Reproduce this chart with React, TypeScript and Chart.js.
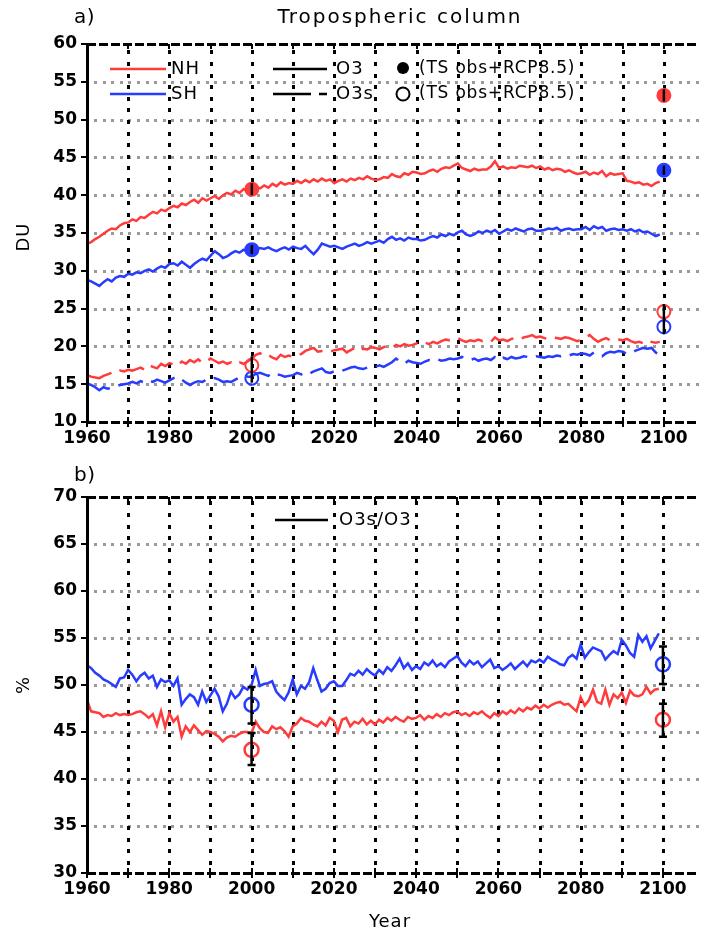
import React, { useEffect, useRef } from "react";
import { Chart, registerables } from "chart.js";
Chart.register(...registerables);

// ---------- data ----------
const START_YEAR = 1960;
const X_TICKS = [1960, 1970, 1980, 1990, 2000, 2010, 2020, 2030, 2040, 2050, 2060, 2070, 2080, 2090, 2100];
const X_LABEL_STEP = 20;
const Y_TICKS_A = [10, 15, 20, 25, 30, 35, 40, 45, 50, 55, 60];
const Y_TICKS_B = [30, 35, 40, 45, 50, 55, 60, 65, 70];

// Panel a: tropospheric column (DU), annual 1960-2099
const nhO3 = [
  33.6, 33.8, 34.2, 34.5, 34.9, 35.3, 35.6, 35.5, 36.0, 36.3,
  36.4, 36.8, 36.6, 37.1, 37.0, 37.4, 37.8, 37.6, 38.1, 37.9,
  38.3, 38.6, 38.4, 38.9, 38.7, 39.1, 39.4, 39.0, 39.6, 39.3,
  39.6, 39.9, 39.5, 40.0, 40.3, 40.1, 40.6, 40.3, 40.8, 40.5,
  40.8, 41.1, 40.9, 41.3, 41.0, 41.5, 41.2, 41.7, 41.4, 41.6,
  41.5, 41.9, 41.6, 42.0, 41.7, 42.1, 41.8, 42.2, 41.9, 42.1,
  41.6, 41.9, 42.1, 41.8, 42.2, 42.0, 42.3, 42.1, 42.5, 42.2,
  42.0, 42.1, 42.4, 42.3, 42.8, 42.5, 42.4, 42.9, 42.7, 43.1,
  43.0, 42.8, 42.9, 43.2, 43.4, 43.1, 43.5, 43.7, 43.6, 43.9,
  44.2, 43.6, 43.4, 43.2, 43.5, 43.3, 43.4, 43.4, 43.8, 44.5,
  43.6, 43.8, 43.5, 43.7, 43.6, 43.9, 43.8, 43.7, 43.9, 43.6,
  43.8, 43.4, 43.6, 43.3, 43.5, 43.4, 43.1, 43.3, 43.0, 42.8,
  42.9, 43.1, 42.7, 43.0, 42.8, 43.2, 42.5, 42.9, 42.7, 42.8,
  42.9, 41.9, 41.8, 41.6, 41.7, 41.4, 41.5, 41.2, 41.6, 41.8,
];
const shO3 = [
  28.8, 28.6, 28.3, 28.0, 28.5, 28.9, 28.6, 29.1, 29.3, 29.2,
  29.6, 29.5, 29.8, 29.7, 30.0, 30.2, 29.9, 30.3, 30.6, 30.4,
  30.9, 31.0, 30.7, 31.2, 30.8, 30.4, 30.9, 31.3, 31.6, 31.4,
  32.0, 32.6, 32.2, 31.7, 31.9, 32.3, 32.6, 32.4, 32.8, 32.5,
  33.0, 32.8, 33.0, 32.9, 33.1, 32.8, 32.6, 32.9, 33.1, 32.8,
  33.2, 33.0, 32.9, 33.3, 32.7, 32.2, 32.8, 33.6, 33.4, 33.2,
  33.3, 33.1, 32.9, 33.2, 33.4, 33.6, 33.3, 33.5, 33.8, 33.6,
  33.8, 34.0, 33.7, 34.2, 34.5, 34.1, 34.3, 34.0, 34.4, 34.2,
  34.2, 34.0, 34.1, 34.4, 34.6, 34.4, 34.8, 34.6, 34.9, 34.7,
  35.1, 35.3, 34.8, 34.6, 34.8, 35.2, 35.0, 35.3, 35.1, 35.4,
  34.9, 35.2, 35.5, 35.3, 35.6, 35.4, 35.2, 35.5, 35.6, 35.3,
  35.3, 35.4, 35.6, 35.5, 35.7, 35.3, 35.5, 35.6, 35.4, 35.5,
  35.5, 35.8, 35.4, 35.9, 35.6, 35.8, 35.3, 35.5, 35.6, 35.4,
  35.5, 35.3, 35.5, 35.2, 35.4, 35.1, 35.2, 34.9, 34.6, 34.8,
];
const nhO3s = [
  16.2, 16.0, 15.9, 15.8, 16.1, 16.3, 16.5, 16.4, 16.8, 16.7,
  16.9, 16.8, 17.0, 17.2, 16.9, 17.5, 17.3, 17.1, 17.7, 17.4,
  17.8, 17.6, 17.4, 18.0, 17.7, 18.2, 17.9, 18.3, 17.8, 18.0,
  18.4, 18.1, 17.8, 18.0, 17.7, 17.9, 17.6, 17.9, 17.7, 18.0,
  18.4, 18.9, 19.1, 18.7, 18.9, 18.5, 18.3, 18.9, 18.6, 18.8,
  18.6, 18.9, 19.0, 19.4, 19.6, 19.8, 19.3, 19.4, 19.5, 19.3,
  19.5, 19.6, 19.7, 19.2, 19.5, 19.8, 19.4, 19.7, 19.6, 19.9,
  19.8, 19.6, 19.9, 20.1, 19.8, 20.2, 20.0, 20.3, 20.1, 20.2,
  20.4, 20.2, 20.5, 20.3, 20.6, 20.4, 20.7, 20.9, 20.8, 21.0,
  21.1, 20.8, 20.6, 20.8, 20.7, 20.9, 20.7, 20.8, 20.6, 21.2,
  20.8, 20.9, 20.7, 21.0, 21.1, 20.9, 21.2, 21.3, 21.5, 21.2,
  21.3, 21.1, 21.0, 21.2, 21.1, 21.0, 21.2, 21.1, 20.9, 20.7,
  20.9, 21.2, 21.5, 21.0, 20.6, 20.9, 21.1, 20.8, 21.0, 20.9,
  20.8, 21.0, 20.7, 20.5, 20.6, 20.4, 20.8, 20.6, 20.5, 20.6,
];
const shO3s = [
  15.1, 14.9, 14.6, 14.2, 14.6, 14.4, 14.5, 14.7, 14.9, 15.0,
  15.1, 15.3, 15.1, 15.4, 15.2, 15.5, 15.3, 15.6, 15.4, 15.2,
  15.5, 15.8, 16.0, 15.6, 15.2, 14.9, 15.2, 15.4, 15.3, 15.6,
  15.5, 15.8, 15.6, 15.3, 15.4, 15.3, 15.6, 15.9, 16.2, 16.0,
  16.0, 16.4, 16.5, 16.3, 16.1, 16.5, 16.3, 16.2, 16.0, 16.1,
  16.2, 16.5, 16.3, 16.6, 16.4, 16.7, 16.9, 17.1, 16.6, 16.5,
  16.7, 16.6, 16.8, 17.0, 17.2, 17.3, 17.1, 17.0, 17.2, 17.4,
  17.3, 17.5, 17.3, 17.6, 17.9, 18.4, 18.0, 17.7, 18.1, 17.9,
  17.8, 17.7, 18.0, 18.2, 18.1, 18.3, 18.1, 18.2, 18.4, 18.3,
  18.4, 18.6, 18.3, 18.2, 18.4, 18.1, 18.3, 18.4, 18.2, 18.6,
  18.2, 18.5, 18.3, 18.6, 18.4, 18.5, 18.7, 18.6, 18.5, 18.7,
  18.6, 18.5, 18.7, 18.6, 18.8, 18.7, 18.9, 18.8, 19.0, 18.9,
  19.1, 19.0, 18.8, 19.2, 18.9, 18.7, 19.1, 19.3, 19.2, 19.4,
  19.3, 19.0, 19.1, 19.4, 19.6, 19.8, 19.7, 19.8, 19.2, 18.9,
];
// Panel b: O3s/O3 (%), annual 1960-2099
const nhRatio = [
  48.4, 47.2, 47.1, 47.0, 46.6, 46.8, 46.7, 47.0, 46.8, 46.9,
  46.8, 46.9, 47.1, 47.2, 46.9, 46.5, 46.9, 45.7, 47.2, 45.5,
  47.0, 46.1, 46.6, 44.5, 45.6, 45.0, 45.7, 45.2, 44.7, 45.1,
  45.0, 44.8, 44.5, 44.0, 44.4, 44.6, 44.5, 44.8, 45.0, 45.0,
  44.9, 46.1, 45.4, 45.0, 44.9, 45.6, 45.3, 45.5, 45.1, 44.5,
  45.6, 45.9, 46.5, 46.2, 46.1, 45.8, 45.6, 46.1, 45.7, 46.5,
  46.2, 45.0, 46.3, 46.5, 45.6, 46.1, 45.9, 46.4, 45.8, 46.2,
  45.8, 46.3, 46.0, 46.5, 46.2, 46.6, 46.3, 46.1, 46.6, 46.4,
  46.5, 46.8, 46.3, 46.7, 46.5, 46.9, 46.6, 47.0, 46.8, 47.1,
  47.2, 46.8, 47.0, 46.7, 47.1, 46.9, 47.2, 46.8, 46.5, 47.0,
  46.7, 47.2, 46.9, 47.3, 47.0, 47.5, 47.2, 47.6, 47.4, 47.8,
  47.5, 47.9, 47.6, 47.9, 48.1, 48.2, 47.9, 48.0, 47.6, 47.2,
  48.7, 47.8, 48.4, 49.5, 48.2, 48.0, 49.5, 47.9, 49.0, 48.6,
  49.2, 48.1, 49.4, 48.9, 48.8, 49.0, 49.8, 49.1, 49.5, 49.6,
];
const shRatio = [
  52.1, 51.8, 51.3, 51.0, 50.6, 50.4, 50.1, 49.8, 50.7, 50.8,
  51.6, 51.1, 50.4, 51.0, 51.3, 50.7, 51.0, 49.8, 50.6, 50.3,
  50.5, 49.9, 50.7, 47.9, 48.5, 49.0, 48.7, 47.9, 49.3, 48.2,
  48.9, 49.6, 48.8, 47.2, 48.0, 49.3, 48.6, 49.0, 49.8, 49.5,
  50.0, 51.6, 49.9, 50.1, 50.2, 50.4, 49.3, 48.8, 48.4, 49.2,
  50.6, 49.0, 49.9, 49.6, 50.3, 51.8, 50.5, 49.3, 49.6, 50.2,
  50.4, 49.9, 49.9, 50.5, 51.2, 51.0, 51.5, 51.1, 51.7, 51.3,
  51.0, 51.6, 51.2, 51.9, 51.5, 52.1, 52.8, 51.8, 52.3, 51.6,
  52.0, 51.7, 52.4, 52.1, 52.6, 52.0, 52.3, 51.9, 52.5, 52.8,
  53.1, 52.4, 52.0, 52.6, 52.2, 52.5, 51.9, 52.3, 52.7, 51.8,
  52.0, 51.6, 51.9, 52.3, 51.7, 52.1, 52.5, 52.0, 52.6, 52.4,
  52.7, 52.4, 53.0, 52.7, 52.5, 52.2, 52.1, 52.9, 53.2, 52.8,
  54.3, 52.9, 53.5, 54.0, 53.8, 53.6, 52.7, 53.2, 53.6, 53.3,
  54.8, 54.2, 53.4, 53.0, 55.3, 54.6, 55.2, 53.9, 54.7, 55.5,
];

// Observation-based markers (TS obs + RCP8.5)
const obsYears = [2000, 2100];
const nhO3Obs = [40.8, 53.2];
const shO3Obs = [32.8, 43.3];
const nhO3sObs = [17.5, 24.6];
const shO3sObs = [15.8, 22.6];
const nhO3ObsErr = [0.8, 0.8];
const shO3ObsErr = [0.6, 0.6];
const nhO3sObsErr = [1.2, 1.0];
const shO3sObsErr = [0.6, 1.0];
const nhRatioObs = [43.1, 46.3];
const shRatioObs = [47.9, 52.2];
const nhRatioLo = [41.5, 44.5];
const nhRatioHi = [44.9, 48.0];
const shRatioLo = [45.9, 50.1];
const shRatioHi = [49.8, 54.1];

const RED = "rgb(255,60,60)";
const BLUE = "rgb(40,60,255)";
const FONT = "DejaVu Sans";

const toXY = (arr: number[]) => arr.map((v, i) => ({ x: START_YEAR + i, y: v }));
const obsXY = (arr: number[]) => arr.map((v, i) => ({ x: obsYears[i], y: v }));

// ---------- plugins ----------
function gridFramePlugin() {
  return {
    id: "gridFrame",
    beforeDatasetsDraw(chart: any) {
      const ctx = chart.ctx as CanvasRenderingContext2D;
      const a = chart.chartArea;
      const x = chart.scales.x;
      const y = chart.scales.y;
      ctx.save();
      // horizontal gray dotted grid
      ctx.fillStyle = "#9a9a9a";
      for (const v of (y.ticks as any[]).map((t) => t.value)) {
        if (v <= y.min || v >= y.max) continue;
        const py = Math.round(y.getPixelForValue(v));
        for (let px = a.left + 8; px < a.right; px += 8.6) {
          ctx.fillRect(Math.round(px) - 1, py - 1, 3, 3);
        }
      }
      // vertical black dotted grid
      ctx.fillStyle = "#000";
      for (const v of X_TICKS) {
        if (v === X_TICKS[0]) continue;
        const px = Math.round(x.getPixelForValue(v));
        for (let py = a.bottom - 10; py > a.top + 3; py -= 11.6) {
          ctx.fillRect(px - 1, Math.round(py) - 2, 3, 4);
        }
      }
      ctx.restore();
    },
    afterDatasetsDraw(chart: any) {
      const ctx = chart.ctx as CanvasRenderingContext2D;
      const a = chart.chartArea;
      const x = chart.scales.x;
      const y = chart.scales.y;
      ctx.save();
      ctx.fillStyle = "#000";
      // dashed top & bottom borders
      for (const py of [a.top, a.bottom]) {
        for (let px = a.left; px < a.right; px += 12) {
          ctx.fillRect(px, Math.round(py) - 1, 9, 3);
        }
      }
      // decade ticks
      for (const v of X_TICKS) {
        const px = Math.round(x.getPixelForValue(v));
        ctx.fillRect(px - 1, a.bottom - 5, 2, 10);
        ctx.fillRect(px - 1, a.top, 2, 5);
      }
      // left solid axis
      ctx.fillRect(a.left - 1, a.top - 1, 3, a.bottom - a.top + 3);
      for (const t of y.ticks as any[]) {
        const py = Math.round(y.getPixelForValue(t.value));
        ctx.fillRect(a.left - 6, py - 1, 6, 2);
      }
      ctx.restore();
    },
  };
}

function errorBarPlugin(bars: { x: number; lo: number; hi: number; cap: number }[]) {
  return {
    id: "errorBars",
    afterDatasetsDraw(chart: any) {
      const ctx = chart.ctx as CanvasRenderingContext2D;
      const x = chart.scales.x;
      const y = chart.scales.y;
      ctx.save();
      ctx.strokeStyle = "#000";
      ctx.lineWidth = 2.5;
      ctx.setLineDash([]);
      for (const b of bars) {
        const px = x.getPixelForValue(b.x);
        const p1 = y.getPixelForValue(b.lo);
        const p2 = y.getPixelForValue(b.hi);
        ctx.beginPath();
        ctx.moveTo(px, p1);
        ctx.lineTo(px, p2);
        if (b.cap > 0) {
          ctx.moveTo(px - b.cap, p1);
          ctx.lineTo(px + b.cap, p1);
          ctx.moveTo(px - b.cap, p2);
          ctx.lineTo(px + b.cap, p2);
        }
        ctx.stroke();
      }
      ctx.restore();
    },
  };
}

function textPlugin(draw: (ctx: CanvasRenderingContext2D) => void) {
  return {
    id: "texts",
    afterDraw(chart: any) {
      const ctx = chart.ctx as CanvasRenderingContext2D;
      ctx.save();
      draw(ctx);
      ctx.restore();
    },
  };
}

function setFont(ctx: any, size: number, spacing = 0, weight = "normal") {
  ctx.font = `${weight} ${size}px "${FONT}"`;
  ctx.letterSpacing = `${spacing}px`;
  ctx.fillStyle = "#000";
}

function rotatedText(ctx: CanvasRenderingContext2D, text: string, cx: number, cy: number) {
  ctx.save();
  ctx.translate(cx, cy);
  ctx.rotate(-Math.PI / 2);
  ctx.textAlign = "center";
  ctx.textBaseline = "middle";
  ctx.fillText(text, 0, 0);
  ctx.restore();
}

function legendLine(ctx: CanvasRenderingContext2D, x1: number, x2: number, y: number, color: string, dash: number[] = []) {
  ctx.save();
  ctx.strokeStyle = color;
  ctx.lineWidth = 2.5;
  ctx.setLineDash(dash);
  ctx.beginPath();
  ctx.moveTo(x1, y);
  ctx.lineTo(x2, y);
  ctx.stroke();
  ctx.restore();
}

const tickFont = { family: FONT, weight: "bold" as const, size: 17 };

function baseOptions(yMin: number, yMax: number, yTicks: number[], padTop: number, xAxisH: number) {
  return {
    responsive: false,
    animation: false as const,
    devicePixelRatio: 1,
    layout: { padding: { top: padTop, left: 0, right: 0, bottom: 0 } },
    plugins: { legend: { display: false }, tooltip: { enabled: false }, title: { display: false } },
    elements: { point: { radius: 0 }, line: { tension: 0 } },
    scales: {
      x: {
        type: "linear" as const,
        min: 1960,
        max: 2108.4,
        grid: { display: false, drawTicks: false },
        border: { display: false },
        afterBuildTicks: (s: any) => {
          s.ticks = X_TICKS.map((v) => ({ value: v }));
        },
        afterFit: (s: any) => {
          s.height = xAxisH;
        },
        ticks: {
          autoSkip: false,
          maxRotation: 0,
          color: "#000",
          padding: 6,
          font: tickFont,
          callback: (v: any) => ((v - X_TICKS[0]) % X_LABEL_STEP === 0 ? String(v) : ""),
        },
      },
      y: {
        type: "linear" as const,
        min: yMin,
        max: yMax,
        grid: { display: false, drawTicks: false },
        border: { display: false },
        afterBuildTicks: (s: any) => {
          s.ticks = yTicks.map((v) => ({ value: v }));
        },
        afterFit: (s: any) => {
          s.width = 87;
        },
        ticks: { color: "#000", padding: 10, font: tickFont },
      },
    },
  };
}

function PanelA() {
  const ref = useRef<HTMLCanvasElement | null>(null);
  useEffect(() => {
    if (!ref.current) return;
    const lineDs = (label: string, data: number[], color: string, dash: number[] = []) => ({
      type: "line" as const,
      label,
      data: toXY(data),
      borderColor: color,
      borderWidth: 2.5,
      borderDash: dash,
      pointRadius: 0,
      fill: false,
    });
    const markDs = (label: string, data: number[], color: string, filled: boolean) => ({
      type: "scatter" as const,
      label,
      data: obsXY(data),
      pointRadius: 6.5,
      pointBorderWidth: 2,
      pointBorderColor: color,
      pointBackgroundColor: filled ? color : "rgba(0,0,0,0)",
      showLine: false,
    });
    const bars = [
      ...obsYears.map((yr, i) => ({ x: yr, lo: nhO3Obs[i] - nhO3ObsErr[i], hi: nhO3Obs[i] + nhO3ObsErr[i], cap: 0 })),
      ...obsYears.map((yr, i) => ({ x: yr, lo: shO3Obs[i] - shO3ObsErr[i], hi: shO3Obs[i] + shO3ObsErr[i], cap: 0 })),
      ...obsYears.map((yr, i) => ({ x: yr, lo: nhO3sObs[i] - nhO3sObsErr[i], hi: nhO3sObs[i] + nhO3sObsErr[i], cap: 0 })),
      ...obsYears.map((yr, i) => ({ x: yr, lo: shO3sObs[i] - shO3sObsErr[i], hi: shO3sObs[i] + shO3sObsErr[i], cap: 0 })),
    ];
    const chart = new Chart(ref.current, {
      type: "line",
      data: {
        datasets: [
          lineDs("NH O3", nhO3, RED),
          lineDs("SH O3", shO3, BLUE),
          lineDs("NH O3s", nhO3s, RED, [26, 9]),
          lineDs("SH O3s", shO3s, BLUE, [26, 9]),
          markDs("NH O3 obs", nhO3Obs, RED, true),
          markDs("SH O3 obs", shO3Obs, BLUE, true),
          markDs("NH O3s obs", nhO3sObs, RED, false),
          markDs("SH O3s obs", shO3sObs, BLUE, false),
        ] as any,
      },
      options: baseOptions(10, 60, Y_TICKS_A, 44, 38) as any,
      plugins: [
        gridFramePlugin(),
        errorBarPlugin(bars),
        textPlugin((ctx) => {
          setFont(ctx, 20, 0.5);
          ctx.textBaseline = "middle";
          ctx.textAlign = "left";
          ctx.fillText("a)", 74, 18);
          setFont(ctx, 20, 2);
          ctx.textAlign = "center";
          ctx.fillText("Tropospheric column", 400, 18);
          setFont(ctx, 18, 1);
          rotatedText(ctx, "DU", 24, 237);
          // legend
          setFont(ctx, 18, 1);
          ctx.textAlign = "left";
          ctx.textBaseline = "middle";
          legendLine(ctx, 110, 166, 69, RED);
          ctx.fillText("NH", 171, 69);
          legendLine(ctx, 110, 166, 94, BLUE);
          ctx.fillText("SH", 171, 94);
          legendLine(ctx, 273, 327, 69, "#000");
          ctx.fillText("O3", 336, 69);
          legendLine(ctx, 273, 327, 94, "#000", [38, 8]);
          ctx.fillText("O3s", 336, 94);
          ctx.beginPath();
          ctx.arc(403, 68, 6, 0, Math.PI * 2);
          ctx.fill();
          ctx.beginPath();
          ctx.lineWidth = 2;
          ctx.strokeStyle = "#000";
          ctx.arc(403, 94, 6.5, 0, Math.PI * 2);
          ctx.stroke();
          setFont(ctx, 17, 0.8);
          ctx.fillText("(TS obs+RCP8.5)", 419, 69);
          ctx.fillText("(TS obs+RCP8.5)", 419, 94);
        }),
      ],
    });
    return () => chart.destroy();
  }, []);
  return <canvas ref={ref} width={707} height={460} style={{ display: "block" }} />;
}

function PanelB() {
  const ref = useRef<HTMLCanvasElement | null>(null);
  useEffect(() => {
    if (!ref.current) return;
    const lineDs = (label: string, data: number[], color: string) => ({
      type: "line" as const,
      label,
      data: toXY(data),
      borderColor: color,
      borderWidth: 2.5,
      pointRadius: 0,
      fill: false,
    });
    const markDs = (label: string, data: number[], color: string) => ({
      type: "scatter" as const,
      label,
      data: obsXY(data),
      pointRadius: 7,
      pointBorderWidth: 2.5,
      pointBorderColor: color,
      pointBackgroundColor: "rgba(0,0,0,0)",
      showLine: false,
    });
    const bars = [
      ...obsYears.map((yr, i) => ({ x: yr, lo: nhRatioLo[i], hi: nhRatioHi[i], cap: 4 })),
      ...obsYears.map((yr, i) => ({ x: yr, lo: shRatioLo[i], hi: shRatioHi[i], cap: 4 })),
    ];
    const chart = new Chart(ref.current, {
      type: "line",
      data: {
        datasets: [
          lineDs("NH O3s/O3", nhRatio, RED),
          lineDs("SH O3s/O3", shRatio, BLUE),
          markDs("NH obs", nhRatioObs, RED),
          markDs("SH obs", shRatioObs, BLUE),
        ] as any,
      },
      options: baseOptions(30, 70, Y_TICKS_B, 37, 63) as any,
      plugins: [
        gridFramePlugin(),
        errorBarPlugin(bars),
        textPlugin((ctx) => {
          setFont(ctx, 20, 0.5);
          ctx.textBaseline = "middle";
          ctx.textAlign = "left";
          ctx.fillText("b)", 74, 16);
          setFont(ctx, 18, 1);
          rotatedText(ctx, "%", 24, 225);
          ctx.textAlign = "center";
          ctx.textBaseline = "middle";
          ctx.fillText("Year", 390, 462);
          ctx.textAlign = "left";
          legendLine(ctx, 275, 328, 60, "#000");
          ctx.fillText("O3s/O3", 339, 60);
        }),
      ],
    });
    return () => chart.destroy();
  }, []);
  return <canvas ref={ref} width={707} height={476} style={{ display: "block" }} />;
}

export default function App() {
  return (
    <div style={{ position: "absolute", left: 0, top: 0, width: 707, height: 936, background: "#fff" }}>
      <PanelA />
      <PanelB />
    </div>
  );
}
